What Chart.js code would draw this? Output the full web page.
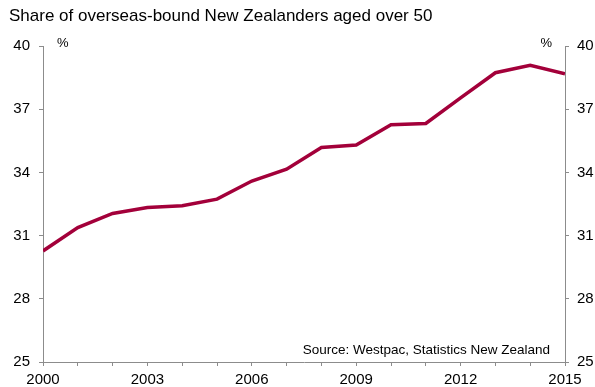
<!DOCTYPE html>
<html>
<head>
<meta charset="utf-8">
<script src="https://cdn.jsdelivr.net/npm/chart.js@4.4.1/dist/chart.umd.min.js"></script>
<style>
  html, body { margin: 0; padding: 0; background: #fff; }
  #wrap { width: 595px; height: 387px; position: relative; }
</style>
</head>
<body>
<div id="wrap"><canvas id="shareChart"></canvas></div>
<script>
"use strict";

// years and share (%) of departing NZ residents aged over 50
var years = [2000, 2001, 2002, 2003, 2004, 2005, 2006, 2007, 2008, 2009, 2010, 2011, 2012, 2013, 2014, 2015];
var share = [30.27, 31.38, 32.05, 32.33, 32.42, 32.73, 33.59, 34.15, 35.18, 35.3, 36.26, 36.32, 37.54, 38.73, 39.08, 38.68];
var yTicks = [25, 28, 31, 34, 37, 40];

var titleText = "Share of overseas-bound New Zealanders aged over 50";
var sourceText = "Source: Westpac, Statistics New Zealand";

var FONT = "'Liberation Sans', Arial, sans-serif";
var AXIS = "#8c8c8c";

var points = years.map(function(y, i) { return { x: y, y: share[i] }; });

// title, % unit labels and source line
var textPlugin = {
	id: 'chartText',
	afterDraw: function(chart) {
		var ctx = chart.ctx, area = chart.chartArea;
		ctx.save();
		ctx.fillStyle = "#000";
		ctx.textBaseline = "alphabetic";
		ctx.font = "17px " + FONT;
		ctx.textAlign = "left";
		ctx.fillText(titleText, 9, 21);
		ctx.font = "13px " + FONT;
		ctx.fillText("%", area.left + 14, area.top + 1);
		ctx.textAlign = "right";
		ctx.fillText("%", area.right - 13, area.top + 1);
		ctx.font = "13.5px " + FONT;
		ctx.fillText(sourceText, area.right - 15, area.bottom - 8);
		ctx.restore();
	}
};

var yAxis = function(pos, w, pad) {
	return {
		type: 'linear',
		position: pos,
		display: true,
		min: 25,
		max: 40,
		afterBuildTicks: function(scale) {
			scale.ticks = yTicks.map(function(v) { return { value: v }; });
		},
		afterFit: function(scale) { scale.width = w; },
		border: { display: true, color: AXIS, width: 1 },
		grid: { drawOnChartArea: false, drawTicks: true, tickLength: 4, color: AXIS },
		ticks: { color: "#000", font: { family: FONT, size: 15 }, padding: pad }
	};
};

var ctx = document.getElementById("shareChart").getContext("2d");
var myLineChart = new Chart(ctx, {
	type: 'line',
	data: {
		datasets: [{
			label: "Share aged over 50",
			data: points,
			borderColor: "#a3003a",
			borderWidth: 3.5,
			pointRadius: 0,
			fill: false,
			tension: 0,
			yAxisID: 'y'
		}]
	},
	options: {
		responsive: true,
		maintainAspectRatio: false,
		animation: false,
		layout: { padding: { top: 46, left: 0, right: 0, bottom: 0 } },
		plugins: { legend: { display: false }, tooltip: { enabled: false } },
		scales: {
			x: {
				type: 'linear',
				min: 2000,
				max: 2015,
				afterBuildTicks: function(scale) {
					scale.ticks = years.map(function(v) { return { value: v }; });
				},
				afterFit: function(scale) { scale.height = 25; },
				border: { display: true, color: AXIS, width: 1 },
				grid: { drawOnChartArea: false, drawTicks: true, tickLength: 4, color: AXIS },
				ticks: {
					color: "#000",
					font: { family: FONT, size: 15 },
					padding: 5,
					maxRotation: 0,
					autoSkip: false,
					callback: function(v) { return (v - 2000) % 3 === 0 ? String(v) : ''; }
				}
			},
			y: yAxis('left', 43, 9),
			y2: yAxis('right', 30, 8)
		}
	},
	plugins: [textPlugin]
});
</script>
</body>
</html>
